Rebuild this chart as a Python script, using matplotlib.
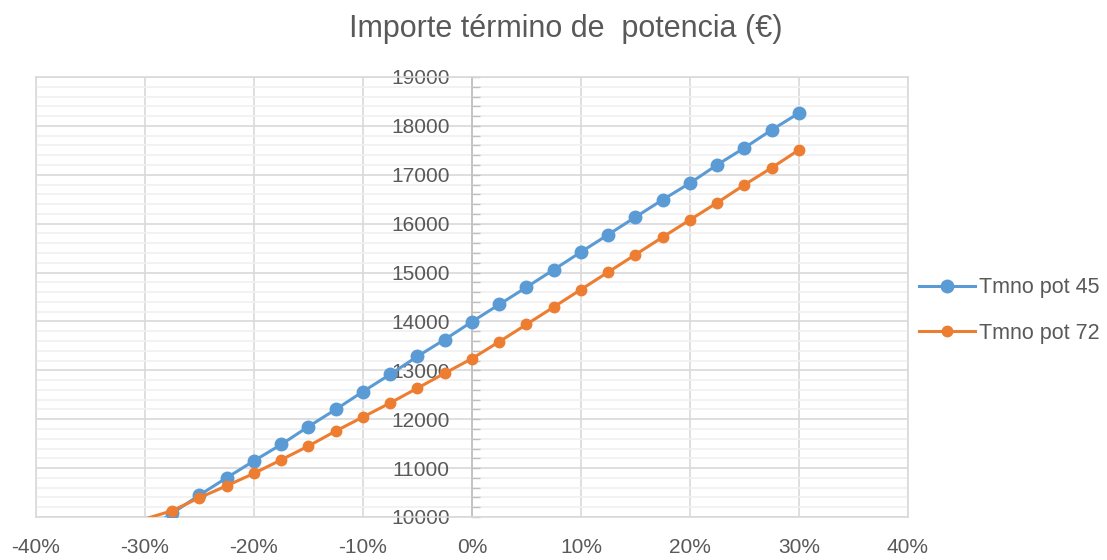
import numpy as np
import matplotlib
matplotlib.use("Agg")
import matplotlib.pyplot as plt
from matplotlib.ticker import MultipleLocator, PercentFormatter
from matplotlib.lines import Line2D

#---------------------FONT and other graphics------------------------
matplotlib.rc('font', family=['Liberation Sans', 'DejaVu Sans'], size=15)
matplotlib.rc('axes', unicode_minus=False)

#---------------------DATA------------------------
variacion = [-0.30, -0.275, -0.25, -0.225, -0.20, -0.175, -0.15, -0.125, -0.10,
             -0.075, -0.05, -0.025, 0.0, 0.025, 0.05, 0.075, 0.10, 0.125, 0.15,
             0.175, 0.20, 0.225, 0.25, 0.275, 0.30]
pot45 = [9720, 10076, 10449, 10802, 11149, 11483, 11850, 12200, 12565, 12918,
         13286, 13630, 13994, 14347, 14700, 15058, 15420, 15776, 16135, 16490,
         16830, 17204, 17551, 17918, 18262]
pot72 = [9960, 10129, 10394, 10639, 10892, 11170, 11452, 11758, 12045, 12333,
         12636, 12940, 13240, 13585, 13939, 14295, 14653, 15010, 15367, 15725,
         16078, 16429, 16796, 17143, 17510]
labels = ['Tmno pot 45', 'Tmno pot 72']
titulo = 'Importe término de  potencia (€)'
#-------------------------------------------------

txt = '#595959'
grid_major = '#d9d9d9'
grid_minor = '#f0f0f0'
ymin, ymax = 10000, 19000

fig = plt.figure(figsize=(11.07, 5.6), dpi=100)
ax = fig.add_axes([0.0325, 0.0768, 0.7877, 0.7857])

ax.set_xlim(-0.4, 0.4)
ax.set_ylim(ymin, ymax)

ax.xaxis.set_major_locator(MultipleLocator(0.1))
ax.xaxis.set_major_formatter(PercentFormatter(1.0, decimals=0))
ax.yaxis.set_major_locator(MultipleLocator(1000))
ax.yaxis.set_minor_locator(MultipleLocator(200))

ax.grid(which='major', axis='both', color=grid_major, linewidth=1.2, zorder=0)
ax.grid(which='minor', axis='y', color=grid_minor, linewidth=1.2, zorder=0)
ax.set_axisbelow(True)

# y axis crosses at 0%
ax.spines['left'].set_position(('data', 0))
ax.spines['left'].set_color('#bfbfbf')
ax.spines['left'].set_linewidth(1.2)
for s in ['top', 'right', 'bottom']:
    ax.spines[s].set_color(grid_major)
    ax.spines[s].set_linewidth(1.2)
ax.add_line(Line2D([0, 0], [0, 1], transform=ax.transAxes, color=grid_major,
                   linewidth=1.2, clip_on=False))

ax.tick_params(axis='x', length=0, pad=15, labelsize=15, labelcolor=txt)
ax.tick_params(axis='y', which='major', direction='in', length=6, width=1,
               color='#bfbfbf', pad=16, labelsize=15, labelcolor=txt)
ax.tick_params(axis='y', which='minor', direction='in', length=6, width=1,
               color='#bfbfbf')

#PLOT  (line for every point, markers only where inside the axis range)
x = np.array(variacion)
series = [(np.array(pot45), '#5B9BD5', 9), (np.array(pot72), '#ED7D31', 7.5)]
for i, (y, col, ms) in enumerate(series):
    ym = np.ma.masked_less(y, ymin)
    ax.plot(x, y, color=col, linewidth=2.2, zorder=3 + i)
    ax.plot(x, ym, color=col, linewidth=0, marker='o', markersize=ms, zorder=3 + i)

#-------------------------GRAPHICS
fig.text(0.511, 0.948, titulo, ha='center', va='center', fontsize=22, color=txt)
handles = [Line2D([], [], color=col, linewidth=2.2, marker='o', markersize=ms)
           for _, col, ms in series]
fig.legend(handles, labels, loc='center left', bbox_to_anchor=(0.813, 0.4455),
           frameon=False, fontsize=15.5, labelcolor=txt, handlelength=2.6,
           handletextpad=0.15, labelspacing=1.15)

#SAVING
fig.savefig('out.png', dpi=100)
